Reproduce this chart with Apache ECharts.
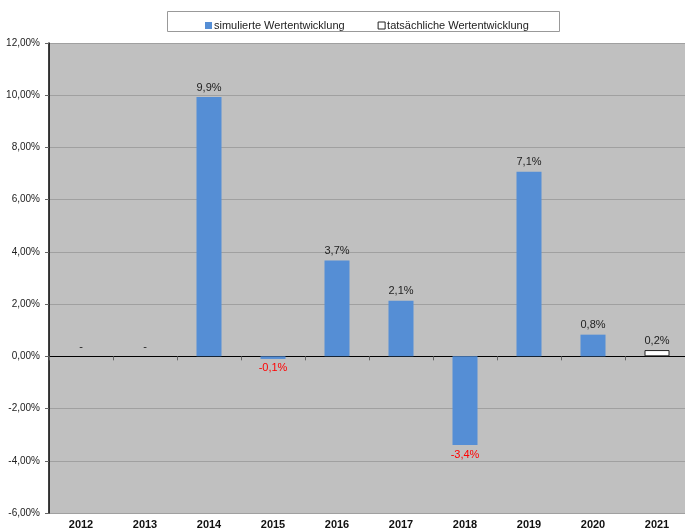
<!DOCTYPE html>
<html><head><meta charset="utf-8">
<script src="https://cdn.jsdelivr.net/npm/echarts@6/dist/echarts.min.js"></script>
<style>html,body{margin:0;padding:0;background:#fff;overflow:hidden}#c{width:689px;height:530px}</style>
</head><body><div id="c"></div>
<script>
const categories = ['2012','2013','2014','2015','2016','2017','2018','2019','2020','2021'];
const simulated = [0, 0, 9.93, -0.1, 3.67, 2.13, -3.4, 7.07, 0.83, null];
const actual = [null, null, null, null, null, null, null, null, null, 0.24];
const yTicks = {min: -6, max: 12, interval: 2};

function fmt(v){ return v.toFixed(1).replace('.', ',') + '%'; }
function labelCfg(){
  return {
    show: true,
    fontFamily: 'Liberation Sans, Arial, sans-serif',
    fontSize: 11,
    formatter: p => p.value === 0 ? '-' : fmt(p.value),
    color: '#222'
  };
}
function withLabels(arr){
  return arr.map(v => {
    if (v === null) return null;
    const o = {value: v};
    if (v < 0) o.label = {position: 'bottom', color: '#ff0000'};
    return o;
  });
}

const chart = echarts.init(document.getElementById('c'));
chart.setOption({
  animation: false,
  backgroundColor: '#fff',
  textStyle: {fontFamily: 'Liberation Sans, Arial, sans-serif'},
  graphic: [{type: 'rect', shape: {x: 167.5, y: 11.5, width: 392, height: 20}, style: {fill: '#fff', stroke: '#999', lineWidth: 1}, z: 0}],
  legend: {
    top: 15, left: 200, itemWidth: 7, itemHeight: 7, itemGap: 33, z: 5,
    textStyle: {fontSize: 11, color: '#222', padding: [0,0,0,-3]},
    data: [
      {name: 'simulierte Wertentwicklung', icon: 'rect'},
      {name: 'tatsächliche Wertentwicklung', icon: 'rect', itemStyle: {color: '#fff', borderColor: '#222', borderWidth: 1}}
    ]
  },
  grid: {left: 49, right: 0, top: 43, bottom: 16, show: true, backgroundColor: '#c0c0c0', borderWidth: 0},
  xAxis: [
    {type: 'category', data: categories, axisLine: {show: false, onZero: false}, axisTick: {show: false},
     axisLabel: {fontSize: 11, fontWeight: 'bold', color: '#111', margin: 6}},
    {type: 'category', data: categories, position: 'bottom', axisLine: {onZero: true, lineStyle: {color: '#000', width: 1}},
     axisTick: {show: true, length: 4, lineStyle: {color: '#666'}}, axisLabel: {show: false}}
  ],
  yAxis: {type: 'value', min: yTicks.min, max: yTicks.max, interval: yTicks.interval,
    axisLine: {show: true, lineStyle: {color: '#000', width: 1.5}},
    axisTick: {show: true, length: 4, lineStyle: {color: '#666'}},
    axisLabel: {fontSize: 10, color: '#222', margin: 9, formatter: v => v.toFixed(2).replace('.', ',') + '%'},
    splitLine: {show: true, lineStyle: {color: '#a0a0a0', width: 1}}
  },
  series: [
    {name: 'simulierte Wertentwicklung', type: 'bar', xAxisIndex: 0, barWidth: 25, barGap: '-100%',
     itemStyle: {color: '#558ed5'}, data: withLabels(simulated), label: Object.assign(labelCfg(), {position: 'top', distance: 4})},
    {name: 'tatsächliche Wertentwicklung', type: 'bar', xAxisIndex: 0, barWidth: 25, barGap: '-100%',
     itemStyle: {color: '#fff', borderColor: '#222', borderWidth: 1}, data: withLabels(actual), label: Object.assign(labelCfg(), {position: 'top', distance: 4})}
  ]
});
</script></body></html>
